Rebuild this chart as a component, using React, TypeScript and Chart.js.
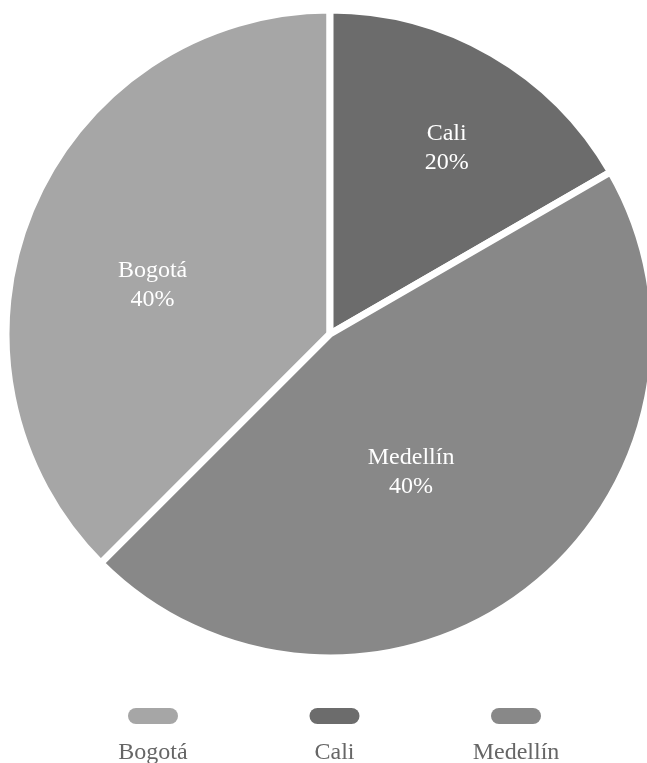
import React, { useEffect, useRef } from "react";
import { Chart, registerables } from "chart.js";

Chart.register(...registerables);

const categories = ["Bogotá", "Cali", "Medellín"];
const values = [45, 20, 55];
const percentLabels = ["40%", "20%", "40%"];
const colors = ["#a6a6a6", "#6c6c6c", "#888888"];

const FONT = '"Liberation Serif", "Times New Roman", serif';

const labelPlugin = {
  id: "sliceLabels",
  afterDatasetsDraw(chart: any, _args: any, opts: any) {
    const ctx = chart.ctx;
    const meta = chart.getDatasetMeta(0);
    const nudges = opts.nudges || [];
    ctx.save();
    ctx.fillStyle = "#ffffff";
    ctx.font = `24px ${FONT}`;
    ctx.textAlign = "center";
    ctx.textBaseline = "middle";
    meta.data.forEach((arc: any, i: number) => {
      const { x, y, startAngle, endAngle, outerRadius } = arc.getProps(
        ["x", "y", "startAngle", "endAngle", "outerRadius"],
        true
      );
      const span = endAngle - startAngle;
      const mid = (startAngle + endAngle) / 2;
      const centroid = (2 * outerRadius * Math.sin(span / 2)) / (1.5 * span);
      const d = centroid + 14;
      const n = nudges[i] || [0, 0];
      const cx = x + Math.cos(mid) * d + n[0];
      const cy = y + Math.sin(mid) * d + n[1];
      ctx.fillText(categories[i], cx, cy - 14.5);
      ctx.fillText(percentLabels[i], cx, cy + 14.5);
    });
    ctx.restore();
  },
};

const legendPlugin = {
  id: "pillLegend",
  afterDraw(chart: any) {
    const ctx = chart.ctx;
    const meta = chart.getDatasetMeta(0);
    const arc0 = meta.data[0];
    const centerX = arc0.x + 4.5;
    const spacing = 181.5;
    const pillW = 50;
    const pillH = 16;
    const pillTop = 700;
    const textY = 751;
    ctx.save();
    categories.forEach((name, i) => {
      const cx = centerX + (i - 1) * spacing;
      ctx.fillStyle = colors[i];
      ctx.beginPath();
      ctx.roundRect(cx - pillW / 2, pillTop, pillW, pillH, pillH / 2);
      ctx.fill();
      ctx.fillStyle = "#666666";
      ctx.font = `24px ${FONT}`;
      ctx.textAlign = "center";
      ctx.textBaseline = "alphabetic";
      ctx.fillText(name, cx, textY);
    });
    ctx.restore();
  },
};

export default function App() {
  const ref = useRef<HTMLCanvasElement | null>(null);

  useEffect(() => {
    if (!ref.current) return;
    const body = document.body;
    const prevOverflow = body.style.overflow;
    const prevMargin = body.style.margin;
    body.style.overflow = "hidden";
    body.style.margin = "0";
    const chart = new Chart(ref.current, {
      type: "pie",
      data: {
        labels: categories,
        datasets: [
          {
            data: values,
            backgroundColor: colors,
            borderColor: "#ffffff",
            borderWidth: 7,
            radius: 324,
          } as any,
        ],
      },
      options: {
        responsive: false,
        animation: false,
        rotation: 225,
        layout: { padding: { left: 5, right: 0, top: 0, bottom: 103 } },
        plugins: {
          legend: { display: false },
          tooltip: { enabled: false },
          sliceLabels: {
            nudges: [
              [-8, 21.5],
              [6.5, 4.5],
              [-18, 9.5],
            ],
          },
        } as any,
      },
      plugins: [labelPlugin, legendPlugin],
    });
    return () => {
      chart.destroy();
      body.style.overflow = prevOverflow;
      body.style.margin = prevMargin;
    };
  }, []);

  return (
    <div
      style={{
        width: 647,
        height: 763,
        boxSizing: "border-box",
        paddingLeft: 8,
        paddingTop: 8,
        overflow: "hidden",
        background: "#ffffff",
      }}
    >
      <canvas ref={ref} width={639} height={755} style={{ display: "block" }} />
    </div>
  );
}
